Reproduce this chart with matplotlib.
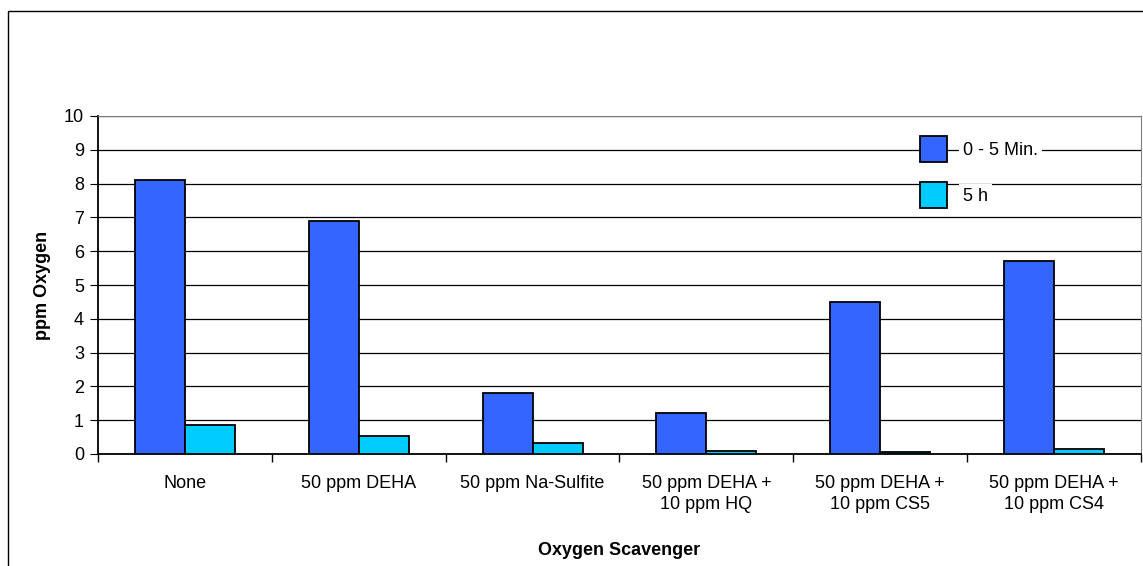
import numpy as np
import matplotlib
matplotlib.use("Agg")
import matplotlib.pyplot as plt
from matplotlib.patches import Rectangle

# values
scavengers = ["None", "50 ppm DEHA", "50 ppm Na-Sulfite",
              "50 ppm DEHA +\n10 ppm HQ", "50 ppm DEHA +\n10 ppm CS5",
              "50 ppm DEHA +\n10 ppm CS4"]
o2_0_5min = [8.1, 6.9, 1.8, 1.2, 4.5, 5.7]
o2_5h = [0.87, 0.54, 0.33, 0.08, 0.05, 0.15]
series_names = ["0 - 5 Min.", "5 h"]

plt.rcParams['font.family'] = ['Liberation Sans', 'DejaVu Sans']

fig = plt.figure(figsize=(11.43, 5.66), dpi=100)
# outer chart frame (cut off at right and bottom)
fig.patches.append(Rectangle((8 / 1143, -0.1), 1.2, 1 - 11 / 566 + 0.1,
                             transform=fig.transFigure, fill=False,
                             edgecolor='black', linewidth=1.0))

ax = fig.add_axes([98 / 1143, 1 - 454 / 566, 1043 / 1143, 338 / 566])

x = np.arange(len(scavengers))
w = 50 / 174
ax.bar(x - w / 2, o2_0_5min, width=w, color='#3366FF', edgecolor='black',
       linewidth=1.3, label=series_names[0], zorder=3)
ax.bar(x + w / 2, o2_5h, width=w, color='#00CCFF', edgecolor='black',
       linewidth=1.3, label=series_names[1], zorder=3)

ax.set_xlim(-0.5, len(scavengers) - 0.5)
ax.set_ylim(0, 10)
ax.set_yticks(range(0, 11))
ax.yaxis.grid(True, color='black', linewidth=0.9, zorder=0)
ax.set_axisbelow(True)

ax.set_xticks(np.arange(-0.5, len(scavengers), 1.0))
ax.set_xticklabels([])
ax.set_xticks(x, minor=True)
ax.set_xticklabels(scavengers, minor=True, fontsize=13)
for t in ax.get_xticklabels(minor=True):
    t.set_linespacing(1.3)
ax.tick_params(axis='x', which='minor', length=0, pad=15)
ax.tick_params(axis='x', which='major', length=6, direction='out', width=1.0)
ax.tick_params(axis='y', length=6, direction='out', labelsize=13, pad=4)

for s in ['top', 'right']:
    ax.spines[s].set_color('#808080')
ax.spines['left'].set_linewidth(1.3)
ax.spines['bottom'].set_linewidth(1.3)

ax.set_ylabel("ppm Oxygen", fontsize=13, fontweight='bold', labelpad=9)
ax.set_xlabel("Oxygen Scavenger", fontsize=13, fontweight='bold', labelpad=21)

leg = ax.legend(loc='upper left', bbox_to_anchor=(0.779, 0.968), frameon=False,
                fontsize=13, handlelength=1.5, handleheight=1.85,
                labelspacing=1.1, borderpad=0.0, handletextpad=0.9)
for t in leg.get_texts():
    t.set_bbox(dict(facecolor='white', edgecolor='none', pad=3))

fig.savefig("out.png", dpi=100)
